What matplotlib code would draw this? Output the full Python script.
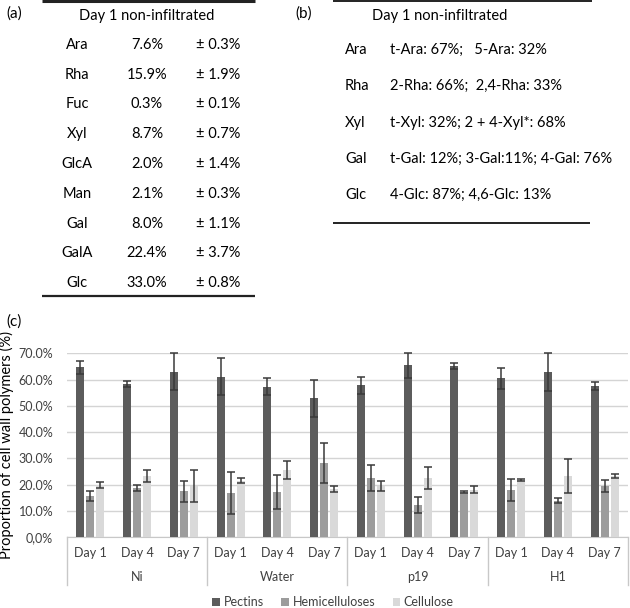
import matplotlib.pyplot as plt
from matplotlib.patches import Patch
from matplotlib.lines import Line2D
import numpy as np

plt.rcParams['font.family'] = ['Lato', 'DejaVu Sans']

# table (a): monosaccharide composition
sugars_a = ['Ara', 'Rha', 'Fuc', 'Xyl', 'GlcA', 'Man', 'Gal', 'GalA', 'Glc']
values_a = ['7.6%', '15.9%', '0.3%', '8.7%', '2.0%', '2.1%', '8.0%', '22.4%', '33.0%']
errors_a = ['± 0.3%', '± 1.9%', '± 0.1%', '± 0.7%', '± 1.4%', '± 0.3%', '± 1.1%', '± 3.7%', '± 0.8%']

# table (b): linkage analysis
sugars_b = ['Ara', 'Rha', 'Xyl', 'Gal', 'Glc']
linkages_b = ['t-Ara: 67%;   5-Ara: 32%',
              '2-Rha: 66%;  2,4-Rha: 33%',
              't-Xyl: 32%; 2 + 4-Xyl*: 68%',
              't-Gal: 12%; 3-Gal:11%; 4-Gal: 76%',
              '4-Glc: 87%; 4,6-Glc: 13%']

# panel (c)
groups = ['Ni', 'Water', 'p19', 'H1']
days = ['Day 1', 'Day 4', 'Day 7']
series = ['Pectins', 'Hemicelluloses', 'Cellulose']
pectins = [64.7, 58.2, 63.0, 61.1, 57.3, 52.9, 57.8, 65.4, 65.2, 60.4, 63.0, 57.6]
pectins_err = [2.5, 1.1, 7.0, 7.1, 3.3, 7.1, 3.3, 4.9, 1.0, 4.1, 7.2, 1.5]
hemi = [15.7, 18.6, 17.5, 16.7, 17.0, 28.2, 22.6, 12.2, 17.0, 18.0, 13.8, 19.5]
hemi_err = [2.0, 1.1, 4.0, 7.9, 6.5, 7.6, 5.0, 3.2, 0.4, 4.2, 0.9, 2.3]
cellulose = [19.7, 23.3, 19.3, 21.4, 25.6, 18.4, 19.5, 22.6, 18.0, 21.7, 23.3, 23.1]
cellulose_err = [1.1, 2.3, 6.1, 1.0, 3.4, 1.2, 1.8, 4.2, 1.3, 0.3, 6.4, 0.8]

colors = ['#5c5c5c', '#9c9c9c', '#d9d9d9']

fig = plt.figure(figsize=(6.3, 6.08), dpi=100)

# overlay axes in pixel units for the two tables
ov = fig.add_axes([0, 0, 1, 1])
ov.set_xlim(0, 630)
ov.set_ylim(608, 0)
ov.axis('off')

fs = 10.5
# (a)
ov.text(6, 14, '(a)', fontsize=11, va='center')
ov.plot([42, 255], [1, 1], color='#222222', lw=2.2, solid_capstyle='butt')
ov.plot([42, 255], [296, 296], color='#222222', lw=1.6, solid_capstyle='butt')
ov.text(147, 16, 'Day 1 non-infiltrated', fontsize=fs, ha='center', va='center')
for i, (s, v, e) in enumerate(zip(sugars_a, values_a, errors_a)):
    y = 45 + i * 29.75
    ov.text(77, y, s, fontsize=fs, ha='center', va='center')
    ov.text(147, y, v, fontsize=fs, ha='center', va='center')
    ov.text(218, y, e, fontsize=fs, ha='center', va='center')

# (b)
ov.text(295, 14, '(b)', fontsize=11, va='center')
ov.plot([333, 592], [1, 1], color='#222222', lw=1.4, solid_capstyle='butt')
ov.plot([333, 590], [223, 223], color='#222222', lw=1.4, solid_capstyle='butt')
ov.text(372, 16, 'Day 1 non-infiltrated', fontsize=fs, ha='left', va='center')
for i, (s, l) in enumerate(zip(sugars_b, linkages_b)):
    y = 50 + i * 36.3
    ov.text(345, y, s, fontsize=fs, ha='left', va='center')
    ov.text(390, y, l, fontsize=fs, ha='left', va='center')

ov.text(6, 322, '(c)', fontsize=11, va='center')

# (c) bar chart
ax = fig.add_axes([67 / 630, 71 / 608, 561 / 630, 183.7 / 608])
x = np.arange(len(pectins))
w = 8 / 47
off = 10 / 47
ekw = dict(ecolor='#3a3a3a', elinewidth=1.1, capsize=3, capthick=1.1, clip_on=False)
for k, (vals, errs) in enumerate([(pectins, pectins_err), (hemi, hemi_err), (cellulose, cellulose_err)]):
    bars = ax.bar(x + (k - 1) * off, vals, w, color=colors[k], yerr=errs, error_kw=ekw, zorder=3)
    for b in bars:
        b.set_clip_on(False)

ax.set_xlim(-0.5, len(pectins) - 0.5)
ax.set_ylim(0, 70)
ax.set_yticks(np.arange(0, 71, 10))
ax.set_yticklabels(['0,0%'] + ['%.1f%%' % v for v in range(10, 71, 10)], fontsize=9)
ax.yaxis.grid(True, color='#d4d4d4', lw=1)
ax.set_axisbelow(True)
for sp in ['top', 'right', 'left']:
    ax.spines[sp].set_visible(False)
ax.spines['bottom'].set_color('#c8c8c8')
ax.tick_params(axis='y', length=0, pad=10, colors='#404040')
ax.set_xticks([])
ax.set_ylabel('Proportion of cell wall polymers (%)', fontsize=10.5, labelpad=3)

tr = ax.get_xaxis_transform()
for i in range(len(pectins)):
    ax.text(i, -0.087, days[i % 3], transform=tr, ha='center', va='center', fontsize=9, color='#404040')
for g, name in enumerate(groups):
    ax.text(g * 3 + 1, -0.218, name, transform=tr, ha='center', va='center', fontsize=9, color='#404040')
for g in range(len(groups) + 1):
    ax.add_line(Line2D([g * 3 - 0.5] * 2, [0, -0.26], transform=tr, color='#c8c8c8', lw=1, clip_on=False))

handles = [Patch(facecolor=c, edgecolor='none') for c in colors]
fig.legend(handles, series, loc='center', bbox_to_anchor=(333 / 630, 6 / 608), ncol=3, frameon=False,
           fontsize=9, handlelength=0.6, handleheight=0.6, handletextpad=0.3, columnspacing=1.4,
           labelcolor='#404040')

fig.savefig('out.png', dpi=100)
